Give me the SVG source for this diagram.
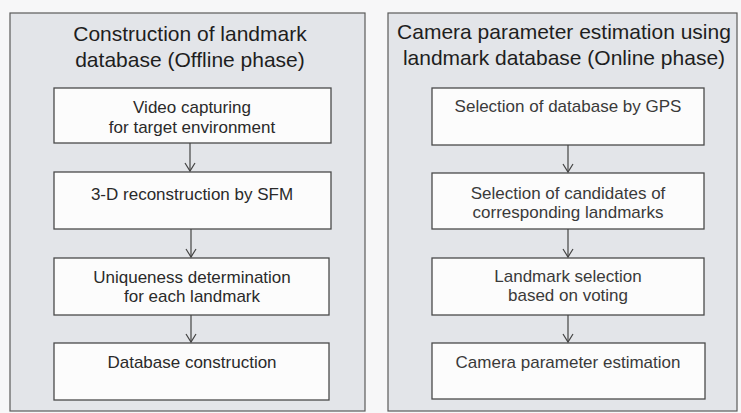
<svg xmlns="http://www.w3.org/2000/svg" width="741" height="413" viewBox="0 0 741 413">
<style>
.panel{fill:#e3e5e9;stroke:#5a5a5a;stroke-width:1.2}
.box{fill:#fcfcfc;stroke:#4a4a4a;stroke-width:1.3}
.title{font-family:"Liberation Sans",Arial,sans-serif;font-size:21px;fill:#1e1e1e;text-anchor:middle}
.t{font-family:"Liberation Sans",Arial,sans-serif;font-size:17px;fill:#2a2a2a;text-anchor:middle}
.r .t{fill:#3a3a3a}
.conn line{stroke:#444;stroke-width:1.2}
.conn path{fill:none;stroke:#444;stroke-width:1.2}
</style>
<rect width="741" height="413" fill="#f7f7f8"/>
<g id="panel-offline">
<rect class="panel" x="10" y="13" width="355" height="398"/>
<text class="title" x="190" y="41">Construction of landmark</text>
<text class="title" x="190" y="67">database (Offline phase)</text>
</g>
<g id="panel-online" class="r">
<rect class="panel" x="388" y="13" width="349" height="398"/>
<text class="title" x="564" y="39">Camera parameter estimation using</text>
<text class="title" x="564" y="65">landmark database (Online phase)</text>
</g>
<g id="n1">
<rect class="box" x="54" y="88" width="277" height="55"/>
<text class="t" x="192" y="113">Video capturing</text>
<text class="t" x="192" y="133">for target environment</text>
</g>
<g id="n2">
<rect class="box" x="54" y="172" width="277" height="57"/>
<text class="t" x="192" y="200">3-D reconstruction by SFM</text>
</g>
<g id="n3">
<rect class="box" x="54" y="258" width="275" height="57"/>
<text class="t" x="192" y="283">Uniqueness determination</text>
<text class="t" x="192" y="302">for each landmark</text>
</g>
<g id="n4">
<rect class="box" x="54" y="343" width="275" height="57"/>
<text class="t" x="192" y="368">Database construction</text>
</g>
<g id="m1" class="r">
<rect class="box" x="432" y="88" width="272" height="57"/>
<text class="t" x="568" y="112">Selection of database by GPS</text>
</g>
<g id="m2" class="r">
<rect class="box" x="432" y="173" width="272" height="56"/>
<text class="t" x="568" y="199">Selection of candidates of</text>
<text class="t" x="568" y="218">corresponding landmarks</text>
</g>
<g id="m3" class="r">
<rect class="box" x="432" y="258" width="272" height="57"/>
<text class="t" x="568" y="282">Landmark selection</text>
<text class="t" x="568" y="301">based on voting</text>
</g>
<g id="m4" class="r">
<rect class="box" x="432" y="343" width="273" height="56"/>
<text class="t" x="568" y="368">Camera parameter estimation</text>
</g>
<g id="connectors" class="conn">
<line x1="190" y1="143" x2="190" y2="171"/>
<path d="M185,163 L190,171 L195,163"/>
<line x1="191" y1="229" x2="191" y2="257"/>
<path d="M186,249 L191,257 L196,249"/>
<line x1="191" y1="315" x2="191" y2="342"/>
<path d="M186,334 L191,342 L196,334"/>
<line x1="568" y1="145" x2="568" y2="172"/>
<path d="M563,164 L568,172 L573,164"/>
<line x1="568" y1="229" x2="568" y2="257"/>
<path d="M563,249 L568,257 L573,249"/>
<line x1="568" y1="315" x2="568" y2="342"/>
<path d="M563,334 L568,342 L573,334"/>
</g>
</svg>
